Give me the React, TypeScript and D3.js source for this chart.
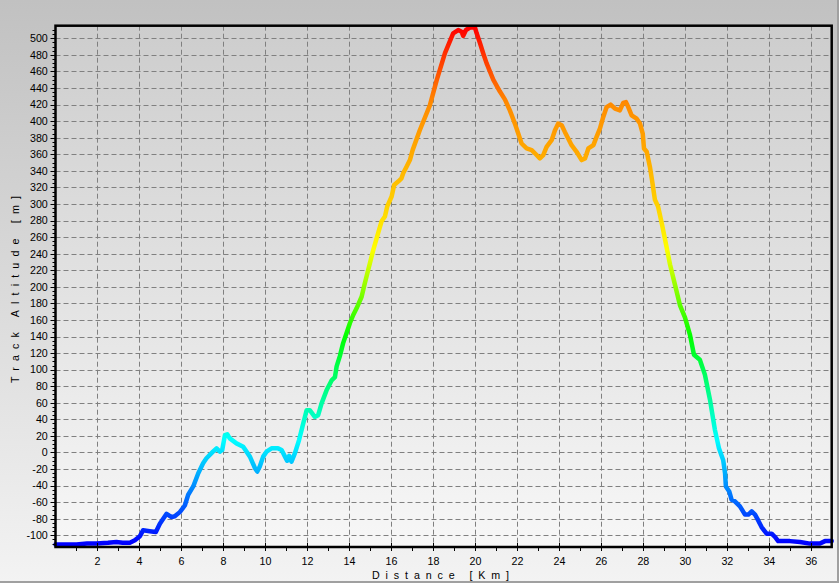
import React from 'react';
import * as d3 from 'd3';

const distanceKm = [
  0.0, 0.5, 1.0, 1.5, 1.95, 2.5, 2.9, 3.2, 3.54, 3.78, 4.02, 4.17, 4.49, 4.78, 4.97, 5.29, 5.53, 5.68, 5.92,
  6.16, 6.32, 6.56, 6.8, 7.03, 7.19, 7.5, 7.67, 7.83, 7.94, 8.07, 8.18, 8.3, 8.62, 8.94, 9.26, 9.5, 9.61,
  9.73, 9.89, 10.05, 10.29, 10.6, 10.77, 10.93, 11.03, 11.13, 11.24, 11.4, 11.6, 11.75, 11.96, 12.11, 12.35,
  12.51, 12.67, 12.91, 13.15, 13.31, 13.39, 13.54, 13.7, 13.86, 14.02, 14.18, 14.34, 14.58, 14.73, 14.89,
  15.13, 15.37, 15.53, 15.69, 15.8, 16.01, 16.13, 16.32, 16.48, 16.56, 16.72, 16.88, 17.01, 17.35, 17.83,
  18.15, 18.55, 18.94, 19.18, 19.34, 19.42, 19.55, 19.74, 19.98, 20.06, 20.22, 20.37, 20.53, 20.69, 20.85,
  21.16, 21.41, 21.64, 21.88, 22.04, 22.2, 22.44, 22.68, 22.88, 23.07, 23.23, 23.39, 23.63, 23.79, 23.94,
  24.11, 24.26, 24.42, 24.58, 24.82, 25.06, 25.22, 25.38, 25.62, 25.77, 25.93, 26.09, 26.25, 26.44, 26.65,
  26.88, 27.04, 27.17, 27.28, 27.44, 27.68, 27.84, 27.97, 28.03, 28.16, 28.31, 28.41, 28.55, 28.7, 28.89,
  29.08, 29.27, 29.51, 29.74, 29.98, 30.22, 30.41, 30.69, 30.93, 31.17, 31.41, 31.6, 31.8, 31.89, 31.93,
  32.09, 32.2, 32.36, 32.6, 32.84, 33.0, 33.16, 33.32, 33.47, 33.63, 33.87, 34.11, 34.27, 34.42, 34.98,
  35.46, 35.93, 36.41, 36.65, 36.97,
];

const altitudeM = [
  -111, -111, -111, -110, -110, -109, -108, -109, -109, -106, -101, -94, -95, -96, -86, -74, -78, -77, -72,
  -64, -51, -41, -25, -13, -7, 1, 5, 1, 3, 21, 22, 17, 11, 7, -5, -19, -23,
  -17, -5, 1, 5, 5, 3, -5, -10, -4, -11, -1, 15, 30, 51, 51, 43,
  45, 59, 75, 87, 91, 104, 116, 132, 144, 156, 166, 174, 188, 204, 220,
  244, 265, 279, 285, 297, 309, 323, 327, 331, 337, 345, 353, 365, 389, 419,
  449, 482, 506, 510, 508, 503, 510, 513, 513, 506, 494, 482, 470, 460, 450,
  436, 426, 413, 397, 385, 373, 367, 365, 360, 355, 359, 369, 377, 389, 397,
  395, 387, 379, 371, 363, 353, 355, 367, 371, 381, 391, 405, 417, 420, 415,
  413, 422, 423, 417, 407, 403, 397, 385, 367, 363, 345, 329, 305, 297, 275,
  251, 227, 202, 178, 163, 142, 118, 112, 94, 64, 27, 5, -9, -25, -41,
  -47, -57, -59, -65, -75, -75, -71, -75, -82, -90, -98, -98, -102, -107, -107,
  -108, -110, -110, -107, -107,
];

const xTickValues = [2, 4, 6, 8, 10, 12, 14, 16, 18, 20, 22, 24, 26, 28, 30, 32, 34, 36];
const xMinorTickValues = d3.range(1, 37, 1);
const yTickValues = d3.range(-100, 501, 20);
const yMinorTickValues = d3.range(-110, 515, 5);
const xTitle = 'Distance [Km]';
const yTitle = 'Track Altitude [m]';

const altitudeColorStops: [number, string][] = [
  [-110, '#0000ff'],
  [15, '#00ffff'],
  [140, '#00ff00'],
  [245, '#ffff00'],
  [300, '#ffd000'],
  [360, '#ffaa00'],
  [420, '#ff8c00'],
  [460, '#ff5000'],
  [513, '#ff0000'],
];

const W = 840;
const H = 583;
const left = 55.5;
const right = 831.7;
const top = 25.7;
const bottom = 547;
const FONT = '"Liberation Sans", Arial, sans-serif';

export default function App() {
  const x = d3.scaleLinear().domain([0, 36.97]).range([left, right]);
  const y = d3.scaleLinear().domain([-114.1, 515.2]).range([bottom, top]);
  const idx = d3.range(distanceKm.length);
  const line = d3
    .line<number>()
    .x((i) => x(distanceKm[i]))
    .y((i) => y(altitudeM[i]))
    .curve(d3.curveLinear);
  const gMin = -114.1;
  const gMax = 515.2;

  return (
    <svg
      width={W}
      height={H}
      style={{ position: 'absolute', left: 0, top: 0, display: 'block' }}
      fontFamily={FONT}
    >
      <defs>
        <linearGradient id="bg" x1="0" y1="0" x2="0" y2="1">
          <stop offset="0" stopColor="#c1c1c1" />
          <stop offset="1" stopColor="#f3f3f3" />
        </linearGradient>
        <linearGradient id="plotbg" x1="0" y1="0" x2="0" y2="1">
          <stop offset="0" stopColor="#cdcdcd" />
          <stop offset="1" stopColor="#f7f7f7" />
        </linearGradient>
        <linearGradient
          id="alt"
          gradientUnits="userSpaceOnUse"
          x1={0}
          x2={0}
          y1={y(gMin)}
          y2={y(gMax)}
        >
          {altitudeColorStops.map(([v, c], i) => (
            <stop key={i} offset={(v - gMin) / (gMax - gMin)} stopColor={c} />
          ))}
        </linearGradient>
      </defs>
      <rect x={0} y={0} width={W} height={H} fill="#ffffff" />
      <rect x={0} y={0} width={838} height={582} fill="url(#bg)" />
      <line x1={838} x2={838} y1={0} y2={583} stroke="#a0a0a0" strokeWidth={2} />
      <line x1={0} x2={839} y1={582} y2={582} stroke="#a0a0a0" strokeWidth={2} />

      <rect x={left} y={top} width={right - left} height={bottom - top} fill="url(#plotbg)" />

      {/* grid */}
      <g stroke="#808080" strokeWidth={1} strokeDasharray="5,3">
        {yTickValues.map((v) => (
          <line key={'gy' + v} x1={left} x2={right} y1={Math.round(y(v)) + 0.5} y2={Math.round(y(v)) + 0.5} />
        ))}
        {xTickValues.map((v) => (
          <line key={'gx' + v} y1={top} y2={bottom} x1={Math.round(x(v)) + 0.5} x2={Math.round(x(v)) + 0.5} />
        ))}
      </g>

      {/* curve */}
      <path
        d={line(idx) || ''}
        fill="none"
        stroke="url(#alt)"
        strokeWidth={4.5}
        strokeLinejoin="round"
        strokeLinecap="round"
      />

      {/* frame */}
      <rect
        x={left}
        y={top}
        width={right - left}
        height={bottom - top}
        fill="none"
        stroke="#000"
        strokeWidth={2.5}
      />

      {/* ticks */}
      <g stroke="#000" strokeWidth={1}>
        {yMinorTickValues.map((v) => (
          <line key={'my' + v} x1={left - 3} x2={left} y1={Math.round(y(v)) + 0.5} y2={Math.round(y(v)) + 0.5} />
        ))}
        {yTickValues.map((v) => (
          <line key={'ty' + v} x1={left - 5} x2={left} y1={Math.round(y(v)) + 0.5} y2={Math.round(y(v)) + 0.5} />
        ))}
        {xMinorTickValues.map((v) => (
          <line key={'mx' + v} x1={Math.round(x(v)) + 0.5} x2={Math.round(x(v)) + 0.5} y1={bottom} y2={bottom + 4} />
        ))}
        {xTickValues.map((v) => (
          <line key={'tx' + v} x1={Math.round(x(v)) + 0.5} x2={Math.round(x(v)) + 0.5} y1={bottom - 4} y2={bottom + 4} />
        ))}
      </g>

      {/* tick labels */}
      <g fontSize={10.7} fill="#000">
        {yTickValues.map((v) => (
          <text key={'ly' + v} x={47.8} y={y(v)} dy="0.36em" textAnchor="end">
            {v}
          </text>
        ))}
        {xTickValues.map((v) => (
          <text key={'lx' + v} x={x(v)} y={564.5} textAnchor="middle">
            {v}
          </text>
        ))}
      </g>

      {/* axis titles */}
      <text x={372} y={578.5} fontSize={10.7} textLength={137} lengthAdjust="spacing" fill="#000">
        {xTitle}
      </text>
      <text
        transform={`translate(18.5, 383) rotate(-90)`}
        x={0}
        y={0}
        fontSize={10.7}
        textLength={187}
        lengthAdjust="spacing"
        fill="#000"
      >
        {yTitle}
      </text>
    </svg>
  );
}
